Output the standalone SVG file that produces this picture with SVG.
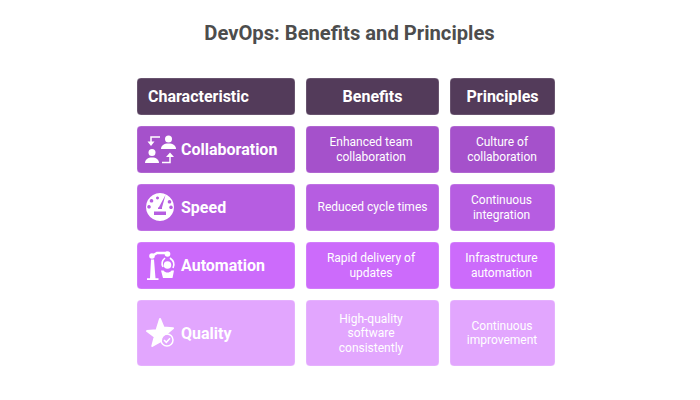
<svg xmlns="http://www.w3.org/2000/svg" width="700" height="400" viewBox="0 0 700 400">
<style>
text{font-family:Roboto,"Liberation Sans",sans-serif;text-anchor:middle}
.t{font-size:20.200px;font-weight:700;fill:#4d4d4d}
.h{font-size:16px;font-weight:700;fill:#fff}
.r{font-size:16px;font-weight:700;fill:#fff;text-anchor:start}
.c{font-size:12px;fill:#fff}
.i{fill:#fff}
.l{fill:none;stroke:#fff;stroke-width:2}
.b{stroke:#fff;stroke-opacity:.25;stroke-width:1}
.h0{fill:#533b5a}.c1{fill:#a551cb}.c2{fill:#b65de1}.c3{fill:#cc6bfb}.c4{fill:#e2a6fe}
</style>
<rect width="700" height="400" fill="#fff"/>
<text class="t" x="349.500" y="40">DevOps: Benefits and Principles</text>
<g id="connectors"/>
<g id="head-characteristic"><rect class="b h0" x="137" y="78" width="158" height="37" rx="4"/><text class="r" x="148" y="102">Characteristic</text></g>
<g id="head-benefits"><rect class="b h0" x="306" y="78" width="133" height="37" rx="4"/><text class="h" x="372.500" y="102">Benefits</text></g>
<g id="head-principles"><rect class="b h0" x="450" y="78" width="105" height="37" rx="4"/><text class="h" x="502.500" y="102">Principles</text></g>

<g id="collaboration"><rect class="b c1" x="137" y="126" width="158" height="47" rx="4"/>
<circle class="i" cx="168.500" cy="139" r="3.500"/><path class="i" d="M161 149c0-3.500 3-5.500 7.500-5.500s7.500 2 7.500 5.500z"/>
<circle class="i" cx="152" cy="152.500" r="3.500"/><path class="i" d="M145 163c0-3.500 3-5.500 7-5.500s7 2 7 5.500z"/>
<path class="l" style="stroke-width:1.500" d="M160 137h-9v5M162 162.500h8v-6"/>
<path class="i" d="M147.500 141.500h7l-3.500 4.500zM166 157l4-4.500 4 4.500z"/>
<text class="r" x="181" y="155">Collaboration</text></g>

<g id="speed"><rect class="b c2" x="137" y="184" width="158" height="47" rx="4"/>
<path class="i" fill-rule="evenodd" d="M160 193a14 14 0 1 1-.01 0zM165.500 195l-6.500 12a2.500 2.500 0 0 0-.5.500h-.5v1.500h4v-1.500zM154 211.500v3.500h12v-3.500zM151.500 199a1.800 1.800 0 1 0 .01 0zM157.500 196.500a1.500 1.500 0 1 0 .01 0zM169.500 200a1.800 1.800 0 1 0 .01 0zM149 205a1.800 1.800 0 1 0 .01 0zM171 205.500a1.800 1.800 0 1 0 .01 0z"/>
<text class="r" x="181" y="213">Speed</text></g>

<g id="automation"><rect class="b c3" x="137" y="242" width="158" height="47" rx="4"/>
<path class="i" d="M147 280h11.500v-1.800h-3l-1.500-18.700h-3l-1 18.700h-3z"/>
<circle class="i" cx="152" cy="256" r="2.800"/><circle class="i" cx="167.500" cy="254" r="2.800"/>
<path class="l" style="stroke-width:2.500" d="M152 256l5-3h10"/>
<path class="l" style="stroke-width:1.600" d="M165 258c-3 2.500-3.500 6-2 9M170 258c4 3 4.500 7 3 10"/>
<circle class="i" cx="167.500" cy="265" r="3.800"/>
<path class="i" d="M161 270.500h2.500c1 1.500 2.500 2 4 2s3-.5 4-2h2.500l-1.500 7.500h-9.500z"/>
<text class="r" x="181" y="271">Automation</text></g>

<g id="quality"><rect class="b c4" x="137" y="300" width="158" height="66" rx="4"/>
<path class="i" stroke="#fff" stroke-width="2" stroke-linejoin="round" d="M160 319l3.500 8.500 9.500.7-6 5a8 8 0 0 0-6 7.800l-.7.500-8 4.500 2.400-9.300-7.700-5.700 9.500-.7z"/>
<circle cx="167" cy="340" r="6" fill="none" stroke="#fff" stroke-width="1.500"/>
<path d="M164 340l2.300 2.300 3.700-4" fill="none" stroke="#fff" stroke-width="1.500"/>
<text class="r" x="181" y="339">Quality</text></g>

<g id="benefit-1"><rect class="b c1" x="306" y="126" width="133" height="47" rx="4"/><text class="c" x="371" y="146">Enhanced team</text><text class="c" x="371" y="161">collaboration</text></g>
<g id="benefit-2"><rect class="b c2" x="306" y="184" width="133" height="47" rx="4"/><text class="c" x="372.500" y="211">Reduced cycle times</text></g>
<g id="benefit-3"><rect class="b c3" x="306" y="242" width="133" height="47" rx="4"/><text class="c" x="371" y="262">Rapid delivery of</text><text class="c" x="371" y="277">updates</text></g>
<g id="benefit-4"><rect class="b c4" x="306" y="300" width="133" height="66" rx="4"/><text class="c" x="371" y="323">High-quality</text><text class="c" x="371" y="337">software</text><text class="c" x="371" y="352">consistently</text></g>
<g id="principle-1"><rect class="b c1" x="450" y="126" width="105" height="47" rx="4"/><text class="c" x="502" y="146">Culture of</text><text class="c" x="502" y="161">collaboration</text></g>
<g id="principle-2"><rect class="b c2" x="450" y="184" width="105" height="47" rx="4"/><text class="c" x="501.500" y="204">Continuous</text><text class="c" x="501.500" y="219">integration</text></g>
<g id="principle-3"><rect class="b c3" x="450" y="242" width="105" height="47" rx="4"/><text class="c" x="501.500" y="262">Infrastructure</text><text class="c" x="501.500" y="277">automation</text></g>
<g id="principle-4"><rect class="b c4" x="450" y="300" width="105" height="66" rx="4"/><text class="c" x="502" y="330">Continuous</text><text class="c" x="502" y="344">improvement</text></g>
</svg>
